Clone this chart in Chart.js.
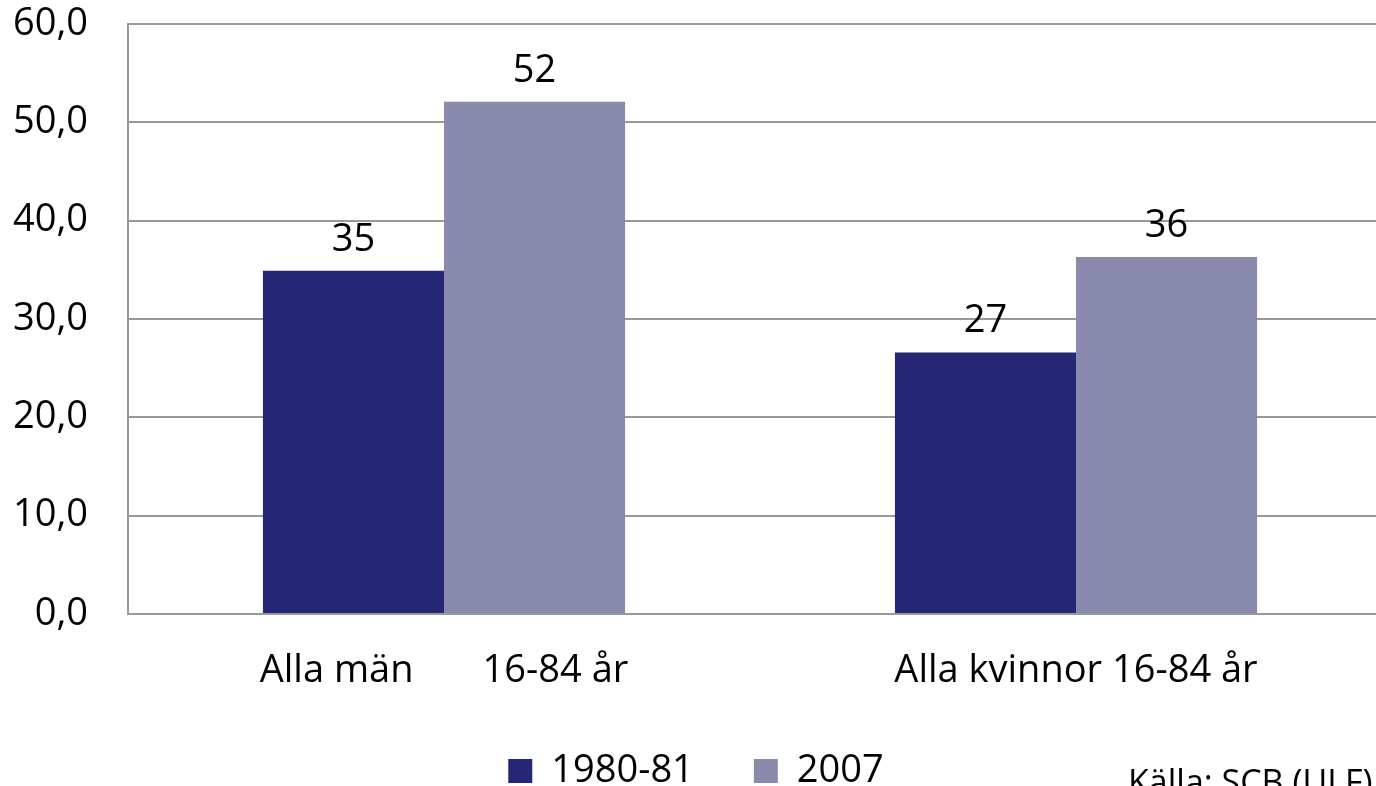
<!DOCTYPE html>
<html>
<head>
<meta charset="utf-8">
<script src="https://cdn.jsdelivr.net/npm/chart.js@4/dist/chart.umd.min.js"></script>
<style>
  html, body { margin: 0; padding: 0; background: #fff; overflow: hidden; }
  #wrap { width: 1400px; height: 810px; position: relative; }
</style>
</head>
<body>
<div id="wrap"><canvas id="c" width="1400" height="810"></canvas></div>
<script>
const categories = ["Alla män       16-84 år", "Alla kvinnor 16-84 år"];
const seriesNames = ["1980-81", "2007"];
const values1980 = [34.9, 26.6];
const values2007 = [52.1, 36.3];
const yTicks = [0, 10, 20, 30, 40, 50, 60];
const sourceText = "Källa: SCB (ULF)";

const FONT = "'Open Sans', sans-serif";
const FS = 38;

const valueLabels = {
  id: 'valueLabels',
  afterDatasetsDraw(chart) {
    const ctx = chart.ctx;
    ctx.save();
    ctx.font = FS + "px " + FONT;
    ctx.fillStyle = '#000';
    ctx.textAlign = 'center';
    ctx.textBaseline = 'alphabetic';
    chart.data.datasets.forEach((ds, i) => {
      chart.getDatasetMeta(i).data.forEach((bar, j) => {
        ctx.fillText(String(Math.round(ds.data[j])), bar.x, bar.y - 20);
      });
    });
    ctx.restore();
  }
};

const sourcePlugin = {
  id: 'sourcePlugin',
  afterDraw(chart) {
    const ctx = chart.ctx;
    ctx.save();
    ctx.font = "34px " + FONT;
    ctx.fillStyle = '#000';
    ctx.textAlign = 'left';
    ctx.textBaseline = 'top';
    ctx.fillText(sourceText, 1128, 767);
    ctx.restore();
  }
};

new Chart(document.getElementById('c'), {
  type: 'bar',
  data: {
    labels: categories,
    datasets: [
      { label: seriesNames[0], data: values1980, backgroundColor: '#272778', borderWidth: 0 },
      { label: seriesNames[1], data: values2007, backgroundColor: '#8A8AAE', borderWidth: 0 }
    ]
  },
  options: {
    responsive: false,
    animation: false,
    devicePixelRatio: 1,
    layout: { padding: { left: 0, right: 8, top: 24, bottom: 10 } },
    datasets: { bar: { barPercentage: 1.0, categoryPercentage: 0.573 } },
    plugins: {
      legend: {
        position: 'bottom',
        labels: {
          font: { family: FONT, size: FS },
          color: '#000',
          boxWidth: 24,
          boxHeight: 24,
          padding: 60
        }
      },
      tooltip: { enabled: false }
    },
    scales: {
      x: {
        grid: { display: false, drawTicks: false },
        border: { display: true, color: '#999', width: 2 },
        ticks: { font: { family: FONT, size: FS }, color: '#000', padding: 34, autoSkip: false, maxRotation: 0 },
        afterFit(scale) { scale.height = 78; scale.paddingLeft = 0; scale.paddingRight = 0; }
      },
      y: {
        min: 0, max: 60,
        afterBuildTicks(scale) { scale.ticks = yTicks.map(v => ({ value: v })); },
        grid: { color: '#999', lineWidth: 2, drawTicks: false },
        border: { display: true, color: '#999', width: 2 },
        ticks: {
          font: { family: FONT, size: FS },
          color: '#000',
          padding: 40,
          callback: v => v.toFixed(1).replace('.', ',')
        },
        afterFit(scale) { scale.width = 128; scale.paddingTop = 0; scale.paddingBottom = 0; }
      }
    }
  },
  plugins: [valueLabels, sourcePlugin]
});
</script>
</body>
</html>
